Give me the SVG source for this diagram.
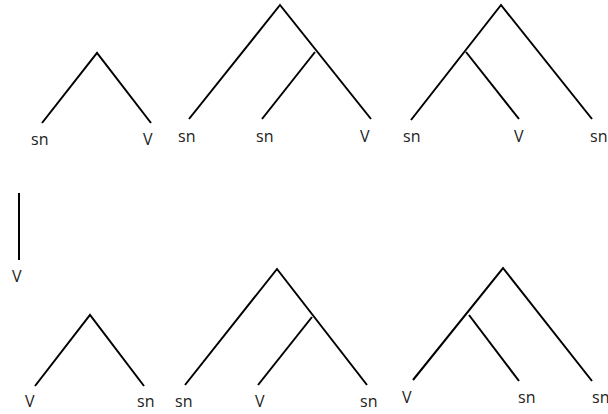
<svg xmlns="http://www.w3.org/2000/svg" width="608" height="414" viewBox="0 0 608 414">
<style>
.e{fill:none;stroke:#000;stroke-width:2;stroke-linecap:butt;stroke-linejoin:miter}
.t{font-family:"Open Sans","Liberation Sans",sans-serif;font-size:16px;fill:#222}
</style>
<rect width="608" height="414" fill="#fff"/>
<g id="connectors">
<polyline class="e" points="42,123 97,53 151,123"/>
<polyline class="e" points="189,119 280,5 371,119"/>
<line class="e" x1="315" y1="52" x2="262" y2="119"/>
<polyline class="e" points="411,120 501,5 592,119"/>
<line class="e" x1="466" y1="52" x2="519" y2="119"/>
<line class="e" x1="19" y1="193" x2="19" y2="260"/>
<polyline class="e" points="35,386 90,315 144,386"/>
<polyline class="e" points="185,385 277,269 367,385"/>
<line class="e" x1="312" y1="317" x2="258" y2="385"/>
<polyline class="e" points="413,380 503,268 592,381"/>
<line class="e" x1="469" y1="315" x2="519" y2="381"/>
</g>
<g id="tree1">
<text class="t" x="31" y="145">sn</text>
<text class="t" x="143" y="145">V</text>
</g>
<g id="tree2">
<text class="t" x="178" y="142">sn</text>
<text class="t" x="256" y="142">sn</text>
<text class="t" x="360" y="142">V</text>
</g>
<g id="tree3">
<text class="t" x="403" y="142">sn</text>
<text class="t" x="514" y="142">V</text>
<text class="t" x="590" y="142">sn</text>
</g>
<g id="single">
<text class="t" x="12" y="282">V</text>
</g>
<g id="tree4">
<text class="t" x="25" y="407">V</text>
<text class="t" x="137" y="407">sn</text>
</g>
<g id="tree5">
<text class="t" x="175" y="407">sn</text>
<text class="t" x="255" y="407">V</text>
<text class="t" x="360" y="407">sn</text>
</g>
<g id="tree6">
<text class="t" x="402" y="403">V</text>
<text class="t" x="518" y="403">sn</text>
<text class="t" x="592" y="403">sn</text>
</g>
</svg>
